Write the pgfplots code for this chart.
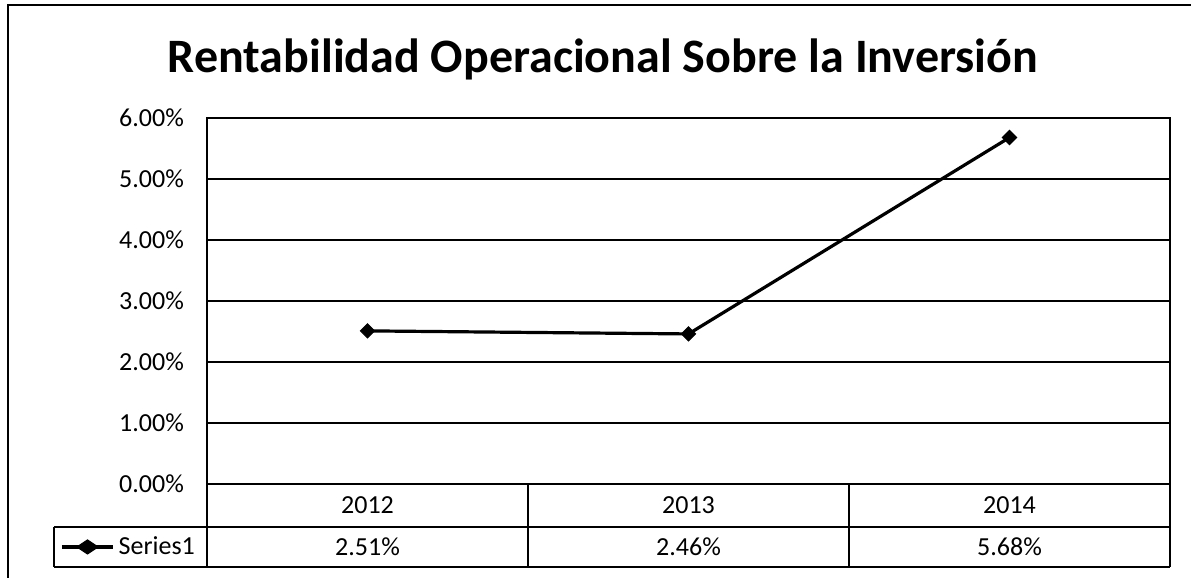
\documentclass[border=0pt]{standalone}
\usepackage{pgfplots}
\pgfplotsset{compat=1.18}
\usepackage{fontspec}
\setmainfont{Carlito}

\begin{document}
\begin{tikzpicture}
% picture frame (1px = 0.5pt, origin at lower-left of plot area)
\path[use as bounding box] (-103.5pt,-47pt) rectangle (492pt,242pt);
\draw[line width=0.8pt] (-99.5pt,-47pt) -- (-99.5pt,239.5pt) -- (492pt,239.5pt);
\node[font=\fontsize{24}{28}\selectfont\bfseries, anchor=base] at (198pt,205.5pt)
  {Rentabilidad Operacional Sobre la Inversión};

\begin{axis}[
    at={(0pt,0pt)}, anchor=south west,
    scale only axis,
    width=481.5pt, height=183pt,
    xmin=-0.5, xmax=2.5,
    ymin=0, ymax=6,
    clip=false,
    axis line style={line width=0.8pt},
    xtick={0,1,2},
    xticklabels={{2012\\2.51\%},{2013\\2.46\%},{2014\\5.68\%}},
    xticklabel style={align=center, anchor=center, yshift=-21.1pt,
        font=\fontsize{13}{20.75}\selectfont},
    ytick={0,1,2,3,4,5,6},
    yticklabels={0.00\%,1.00\%,2.00\%,3.00\%,4.00\%,5.00\%,6.00\%},
    yticklabel style={font=\fontsize{13}{16}\selectfont, xshift=-8pt},
    /pgf/number format/assume math mode=true,
    major tick length=0pt,
    ymajorgrids=true,
    grid style={black, line width=0.6pt},
    legend style={at={(-0.0804,-0.172)}, anchor=center, draw=none, fill=none,
        font=\fontsize{13}{16}\selectfont, inner sep=0pt,
        /tikz/every even column/.append style={column sep=1pt}},
    legend image post style={xscale=1.5},
]
\addplot[black, line width=1.6pt, mark=square*, mark size=2.5pt,
    mark options={rotate=45, line width=0.5pt}]
  coordinates {(0,2.51) (1,2.46) (2,5.68)};
\addlegendentry{Series1}
\end{axis}

% data table grid
\draw[line width=0.8pt] (-76.5pt,-21.5pt) -- (481.5pt,-21.5pt);
\draw[line width=0.8pt] (-76.5pt,-41.5pt) -- (481.5pt,-41.5pt);
\draw[line width=0.8pt] (-76.5pt,-21.5pt) -- (-76.5pt,-41.5pt);
\foreach \x in {0,160.5,321,481.5}
  \draw[line width=0.8pt] (\x pt,0) -- (\x pt,-41.5pt);
\end{tikzpicture}
\end{document}
